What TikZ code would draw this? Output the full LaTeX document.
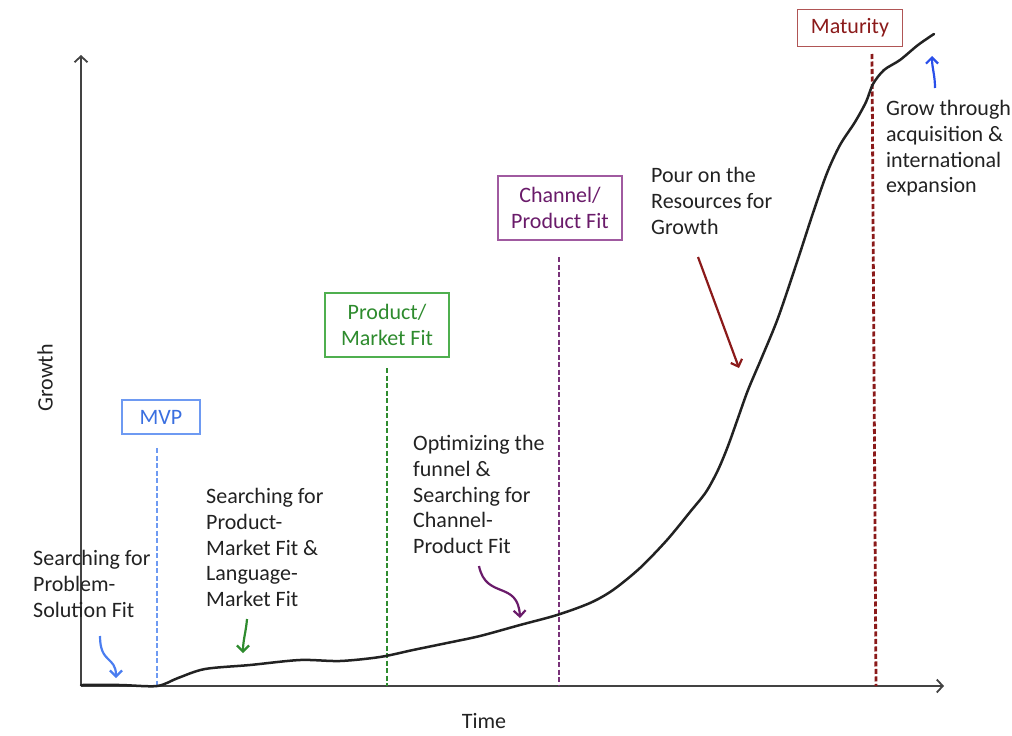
\documentclass[tikz,border=0pt]{standalone}
\usepackage{fontspec}
\setmainfont{Carlito}
\usetikzlibrary{arrows.meta}
\definecolor{inkgray}{HTML}{222222}
\definecolor{mvptxt}{HTML}{3A6FE0}
\definecolor{mvpline}{HTML}{6E9AF2}
\definecolor{pmftxt}{HTML}{2E8B2E}
\definecolor{pmfline}{HTML}{4FAF4F}
\definecolor{cpftxt}{HTML}{6A1B6A}
\definecolor{cpfline}{HTML}{A05AA0}
\definecolor{mattxt}{HTML}{8B1A1A}
\definecolor{matline}{HTML}{B05555}
\definecolor{upblue}{HTML}{2A4FEA}
\definecolor{curlblue}{HTML}{4A7DF0}
\begin{document}
\begin{tikzpicture}[x=1pt,y=-1pt,
  every node/.style={font=\fontsize{22}{25.8}\selectfont, text=inkgray, inner sep=0pt},
  note/.style={align=left, anchor=north west},
  stage/.style={draw, line width=1.3pt, align=center},
  marker/.style={line width=2.8pt, dash pattern=on 5pt off 2.5pt},
  axis/.style={line width=1.8pt, draw=inkgray!85, -{Straight Barb[length=6pt,width=13pt,line width=1.8pt]}},
  hint/.style={line width=2.2pt, -{Straight Barb[length=6pt,width=12pt,line width=2.2pt]}},
  growth/.style={line width=2.5pt, draw=inkgray, line join=round, line cap=round}]

\useasboundingbox (0,0) rectangle (1012,736);

% axes
\coordinate (origin) at (81,686);
\coordinate (ytop) at (81,55);
\coordinate (xend) at (944,686);
\draw[axis] (origin) -- (ytop);
\draw[axis] (origin) -- (xend);
\node[rotate=90] (ylabel) at (45,378) {Growth};
\node (xlabel) at (484,721) {Time};

% stage boxes
\node[stage, draw=mvpline, text=mvptxt, minimum width=78pt, minimum height=34pt] (mvp) at (161,417) {MVP};
\node[stage, draw=pmfline, text=pmftxt, minimum width=124pt, minimum height=64pt] (pmf) at (387,325) {Product/\\Market Fit};
\node[stage, draw=cpfline, text=cpftxt, minimum width=124pt, minimum height=64pt] (cpf) at (560,208) {Channel/\\Product Fit};
\node[stage, draw=matline, text=mattxt, minimum width=105pt, minimum height=37pt] (mat) at (850,28) {Maturity};

% stage markers
\coordinate (mvpT) at (157,448); \coordinate (mvpB) at (157,686);
\coordinate (pmfT) at (387,368); \coordinate (pmfB) at (387,686);
\coordinate (cpfT) at (559,257); \coordinate (cpfB) at (559,686);
\coordinate (matT) at (872,54);  \coordinate (matB) at (876,686);
\draw[marker, draw=mvpline] (mvpT) -- (mvpB);
\draw[marker, draw=pmftxt] (pmfT) -- (pmfB);
\draw[marker, draw=cpftxt!90] (cpfT) -- (cpfB);
\draw[marker, draw=mattxt] (matT) -- (matB);

% growth curve
\draw[growth] plot[smooth, tension=0.5] coordinates {
 (81,685) (120,685) (157,686) (178,678) (205,669) (250,665) (300,660)
 (340,661) (380,657) (413,650) (447,643) (480,636) (520,625) (557,615)
 (590,603) (613,590) (640,568) (667,540) (690,512) (706,492) (718,470)
 (728,446) (738,418) (748,390) (762,357) (778,318) (797,262) (813,213)
 (827,173) (840,145) (855,122) (866,102) (873,84) (884,70) (900,60)
 (918,45) (934,34)};

% notes
\node[note] (psfit) at (33,550) {Searching for\\Problem-\\Solution Fit};
\node[note] (pmfsearch) at (206,488) {Searching for\\Product-\\Market Fit \&\\Language-\\Market Fit};
\node[note] (funnel) at (413,435) {Optimizing the\\funnel \&\\Searching for\\Channel-\\Product Fit};
\node[note] (pour) at (651,167) {Pour on the\\Resources for\\Growth};
\node[note] (grow) at (886,100) {Grow through\\acquisition \&\\international\\expansion};

% pointers
\coordinate (a1s) at (100,636); \coordinate (a1e) at (116,678);
\draw[hint, draw=curlblue] (a1s) .. controls (100,664) and (116,656) .. (a1e);
\coordinate (a2s) at (247,619); \coordinate (a2e) at (243,653);
\draw[hint, draw=pmftxt] (a2s) .. controls (246,632) and (243,640) .. (a2e);
\coordinate (a3s) at (479,566); \coordinate (a3e) at (520,618);
\draw[hint, draw=cpftxt] (a3s) .. controls (486,600) and (518,580) .. (a3e);
\coordinate (a4s) at (698,257); \coordinate (a4e) at (739,368);
\draw[hint, draw=mattxt] (a4s) -- (a4e);
\coordinate (a5s) at (935,88); \coordinate (a5e) at (932,56);
\draw[hint, draw=upblue] (a5s) .. controls (935,75) and (932,68) .. (a5e);

\end{tikzpicture}
\end{document}
